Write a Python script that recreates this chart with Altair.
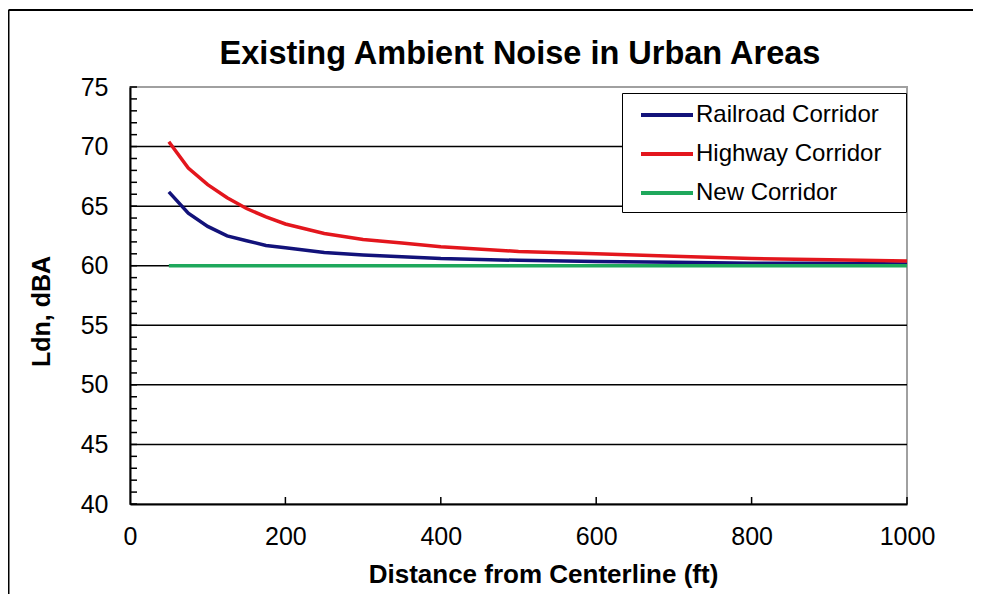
import altair as alt
import pandas as pd

# ---- data ----
distance = [50, 75, 100, 125, 150, 175, 200, 250, 300, 350, 400, 500, 600, 700, 800, 900, 1000]
railroad = [66.2, 64.4, 63.3, 62.5, 62.1, 61.7, 61.5, 61.1, 60.9, 60.75, 60.6, 60.45, 60.35, 60.3, 60.2, 60.2, 60.15]
highway = [70.4, 68.2, 66.8, 65.7, 64.8, 64.1, 63.5, 62.7, 62.2, 61.9, 61.6, 61.2, 61.0, 60.8, 60.6, 60.5, 60.4]
new_corridor = [60.0] * len(distance)

series_names = ["Railroad Corridor", "Highway Corridor", "New Corridor"]
series_colors = ["#12127a", "#e3161d", "#1fa85c"]

title_text = "Existing Ambient Noise in Urban Areas"
x_title = "Distance from Centerline (ft)"
y_title = "Ldn, dBA"
x_labels = [0, 200, 400, 600, 800, 1000]
y_labels = [40, 45, 50, 55, 60, 65, 70, 75]
grid_values = [45, 50, 55, 60, 65, 70]
y_minor_ticks = list(range(40, 76))
x_major_ticks = [200, 400, 600, 800, 1000]

rows = []
for name, vals in zip(series_names, [railroad, highway, new_corridor]):
    for d, v in zip(distance, vals):
        rows.append({"Distance": d, "Ldn": v, "Series": name})
df = pd.DataFrame(rows)

W, H = 777, 417
FONT = "Liberation Sans"

xscale = alt.Scale(domain=[0, 1000], nice=False, zero=False)
yscale = alt.Scale(domain=[40, 75], nice=False, zero=False)

x_axis = alt.Axis(
    title=x_title, values=x_labels, grid=False, ticks=False, format="d",
    labelFlush=False, labelPadding=20, titlePadding=12, titleX=413,
    titleFontSize=26,
)
y_axis = alt.Axis(
    title=y_title, values=y_labels, grid=False, ticks=False, format="d",
    labelFlush=False, labelPadding=22, titlePadding=26, titleY=224,
)

grid = alt.Chart(pd.DataFrame({"g": grid_values})).mark_rule(
    color="#000000", strokeWidth=1.5
).encode(
    y=alt.Y("g:Q", scale=yscale, axis=y_axis),
    x=alt.value(0), x2=alt.value(W),
)

yticks = alt.Chart(pd.DataFrame({"t": y_minor_ticks})).mark_rule(
    color="#000000", strokeWidth=1.5
).encode(
    y=alt.Y("t:Q", scale=yscale, axis=y_axis),
    x=alt.value(0), x2=alt.value(7),
)

xticks = alt.Chart(pd.DataFrame({"t": x_major_ticks})).mark_rule(
    color="#000000", strokeWidth=1.5
).encode(
    x=alt.X("t:Q", scale=xscale, axis=x_axis),
    y=alt.value(H - 7), y2=alt.value(H),
)

lines = alt.Chart(df).mark_line(strokeWidth=3.5, interpolate="linear").encode(
    x=alt.X("Distance:Q", scale=xscale, axis=x_axis),
    y=alt.Y("Ldn:Q", scale=yscale, axis=y_axis),
    color=alt.Color(
        "Series:N",
        scale=alt.Scale(domain=series_names, range=series_colors),
        sort=series_names,
        legend=alt.Legend(
            title="\u00a0", titleOrient="right", titleFontSize=20, titlePadding=18,
            orient="none", legendX=492, legendY=6,
            symbolType="M-2,0H2", symbolSize=676, symbolStrokeWidth=4,
            labelFont=FONT, labelFontSize=24, labelColor="#000000", labelLimit=400,
            strokeColor="#000000", fillColor="#ffffff", padding=7,
            rowPadding=12, labelOffset=14, symbolOffset=23,
        ),
    ),
    order=alt.Order("Distance:Q"),
)

one = pd.DataFrame({"a": [0]})
title_mark = alt.Chart(one).mark_text(
    font=FONT, fontSize=32.5, fontWeight="bold", color="#000000",
    align="center", baseline="alphabetic",
).encode(x=alt.value(390), y=alt.value(-23), text=alt.value(title_text))

frame = alt.Chart(one).mark_rule(color="#000000", strokeWidth=2).encode(
    x=alt.value(-121.5), x2=alt.value(W + 66), y=alt.value(-77), y2=alt.value(-77)
)
frame_left = alt.Chart(one).mark_rule(color="#000000", strokeWidth=2).encode(
    x=alt.value(-121.5), x2=alt.value(-121.5), y=alt.value(-77), y2=alt.value(H + 100)
)

chart = alt.layer(grid, yticks, xticks, lines, title_mark, frame, frame_left).properties(
    width=W, height=H,
    autosize=alt.AutoSizeParams(type="none"),
    padding={"left": 122, "top": 79, "right": 66, "bottom": 90},
).configure_view(
    stroke="#a0a0a0", strokeWidth=2
).configure_axis(
    labelFont=FONT, labelFontSize=25, labelColor="#000000",
    titleFont=FONT, titleFontSize=25, titleFontWeight="bold", titleColor="#000000",
    domainColor="#000000", domainWidth=2,
)

chart.save("out.html", embed_options={"renderer": "svg", "actions": False})
